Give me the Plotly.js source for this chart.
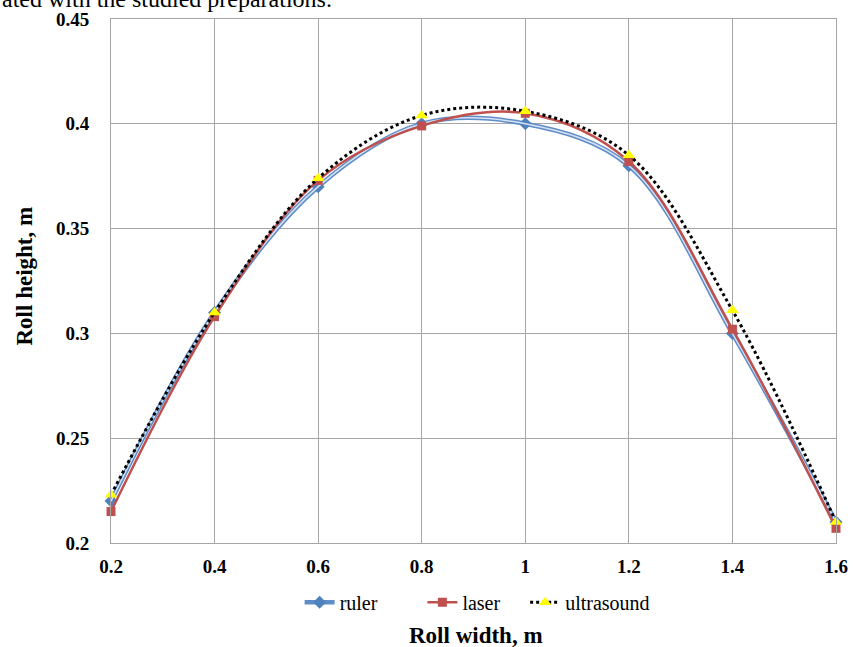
<!DOCTYPE html>
<html><head><meta charset="utf-8">
<script src="https://cdn.plot.ly/plotly-3.0.1.min.js"></script>
<style>html,body{margin:0;padding:0;background:#fff;}#chart{width:853px;height:647px;}</style>
</head><body><div id="chart"></div>
<script>
const widths = [0.2, 0.4, 0.6, 0.8, 1.0, 1.2, 1.4, 1.6];
const ruler = [0.220, 0.310, 0.370, 0.400, 0.400, 0.380, 0.300, 0.210];
const laser = [0.215, 0.308, 0.373, 0.399, 0.405, 0.382, 0.302, 0.207];
const ultrasound = [0.223, 0.310, 0.374, 0.404, 0.406, 0.385, 0.311, 0.210];
const xTicks = [0.2, 0.4, 0.6, 0.8, 1.0, 1.2, 1.4, 1.6];
const yTicks = [0.2, 0.25, 0.3, 0.35, 0.4, 0.45];
const seriesNames = ['ruler', 'laser', 'ultrasound'];

const serif = 'Liberation Serif, Times New Roman, serif';
const pad = n => '\u00a0'.repeat(n);
const traces = [
  {x: widths, y: ruler, name: seriesNames[0] + pad(8), mode: 'lines+markers', legendgroup: 'r',
   line: {shape: 'spline', smoothing: 1, color: '#5F8DC8', width: 4.5},
   marker: {symbol: 'diamond', size: 10, color: '#4F81BD'}, cliponaxis: false},
  {x: widths, y: ruler, name: seriesNames[0], mode: 'lines', legendgroup: 'r', showlegend: false,
   line: {shape: 'spline', smoothing: 1, color: '#D6E2F2', width: 1.5}, cliponaxis: false, hoverinfo: 'skip'},
  {x: widths, y: laser, name: seriesNames[1] + pad(4), mode: 'lines+markers',
   line: {shape: 'spline', smoothing: 1, color: '#C0504D', width: 2.5},
   marker: {symbol: 'square', size: 9, color: '#C0504D'}, cliponaxis: false},
  {x: widths, y: ultrasound, name: seriesNames[2], mode: 'lines+markers',
   line: {shape: 'spline', smoothing: 1, color: '#000000', width: 3, dash: 'dot'},
   marker: {symbol: 'triangle-up', size: 11, color: '#FFFF00'}, cliponaxis: false}
];

const layout = {
  width: 853, height: 647,
  margin: {l: 111, r: 17, t: 19, b: 104},
  paper_bgcolor: '#fff', plot_bgcolor: '#fff',
  font: {family: serif, color: '#000'},
  showlegend: true,
  legend: {orientation: 'h', x: 0.505, xanchor: 'center', y: -0.113, yanchor: 'middle',
           font: {family: serif, size: 20, color: '#000'}, traceorder: 'normal', itemwidth: 30},
  xaxis: {range: [0.2, 1.6], tickvals: xTicks, ticktext: xTicks.map(v => String(v)),
          showgrid: true, gridcolor: '#A6A6A6', gridwidth: 1, zeroline: false,
          showline: true, linecolor: '#A6A6A6', mirror: true, ticks: '', ticklabelstandoff: 6,
          tickfont: {family: serif, size: 19, color: '#000', weight: 'bold'}},
  yaxis: {range: [0.2, 0.45], tickvals: yTicks, ticktext: yTicks.map(v => String(v)),
          showgrid: true, gridcolor: '#A6A6A6', gridwidth: 1, zeroline: false,
          showline: true, linecolor: '#A6A6A6', mirror: true, ticks: '', ticklabelstandoff: 17,
          tickfont: {family: serif, size: 19, color: '#000', weight: 'bold'}},
  annotations: [
    {text: 'Roll width, m', xref: 'paper', yref: 'paper', x: 0.503, y: -0.177, xanchor: 'center', yanchor: 'middle',
     showarrow: false, font: {family: serif, size: 23, color: '#000', weight: 'bold'}},
    {text: 'Roll height, m', xref: 'paper', yref: 'paper', x: -0.119, y: 0.51, xanchor: 'center', yanchor: 'middle',
     textangle: -90, showarrow: false, font: {family: serif, size: 23, color: '#000', weight: 'bold'}},
    {text: 'ated with the studied preparations.', xref: 'paper', yref: 'paper', x: -0.153, y: 1.0, xanchor: 'left', yanchor: 'bottom',
     yshift: 5, showarrow: false, font: {family: serif, size: 24, color: '#000'}}
  ]
};
Plotly.newPlot('chart', traces, layout, {displayModeBar: false, staticPlot: true});
</script></body></html>
